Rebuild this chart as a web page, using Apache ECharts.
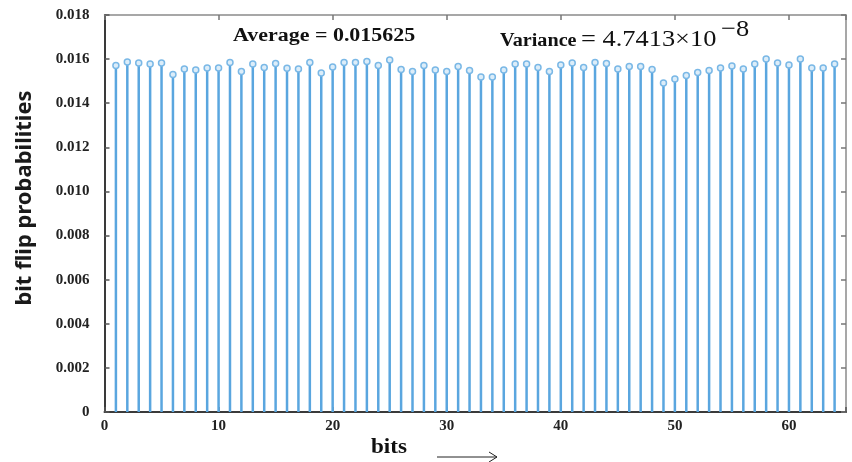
<!DOCTYPE html>
<html>
<head>
<meta charset="utf-8">
<script src="https://cdn.jsdelivr.net/npm/echarts@6/dist/echarts.min.js"></script>
<style>
html,body{margin:0;padding:0;background:#fff;}
#c{width:852px;height:462px;}
</style>
</head>
<body>
<div id="c"></div>
<script>
// bit index (1..64)
var bits = [];
for (var i = 1; i <= 64; i++) bits.push(i);
// bit flip probabilities
var probs = [
  0.01571, 0.01587, 0.01582, 0.01578, 0.01582, 0.01530, 0.01555, 0.01551, 0.01560, 0.01560,
  0.01585, 0.01544, 0.01578, 0.01562, 0.01580, 0.01558, 0.01555, 0.01585, 0.01537, 0.01564,
  0.01585, 0.01585, 0.01589, 0.01571, 0.01596, 0.01553, 0.01544, 0.01571, 0.01551, 0.01544,
  0.01567, 0.01548, 0.01519, 0.01519, 0.01551, 0.01578, 0.01578, 0.01562, 0.01544, 0.01573,
  0.01582, 0.01562, 0.01585, 0.01580, 0.01555, 0.01567, 0.01567, 0.01553, 0.01492, 0.01510,
  0.01526, 0.01539, 0.01548, 0.01560, 0.01569, 0.01555, 0.01578, 0.01601, 0.01582, 0.01573,
  0.01601, 0.01560, 0.01560, 0.01578
];
var xTicks = [0, 10, 20, 30, 40, 50, 60];
var yTicks = [0, 0.002, 0.004, 0.006, 0.008, 0.010, 0.012, 0.014, 0.016, 0.018];
var avgText = 'Average = 0.015625';
var varLabel = 'Variance';
var varValue = '= 4.7413\u00d710';
var varExp = '\u22128';

var pts = bits.map(function (b, k) { return [b, probs[k]]; });

var serif = '"Liberation Serif", "DejaVu Serif", serif';
var labelStyle = { fontFamily: serif, fontWeight: 'bold', fontSize: 15, color: '#222' };

var chart = echarts.init(document.getElementById('c'), null, { renderer: 'canvas' });
chart.setOption({
  animation: false,
  backgroundColor: '#fff',
  grid: { left: 104.5, right: 6, top: 15, bottom: 50, containLabel: false },
  xAxis: [{
    type: 'value', min: 0, max: 65, interval: 10, position: 'bottom',
    axisLine: { show: true, onZero: false, lineStyle: { color: '#3a3a3a', width: 2 } },
    axisTick: { show: true, inside: true, length: 5, lineStyle: { color: '#555', width: 1.5 } },
    splitLine: { show: false },
    axisLabel: Object.assign({ margin: 7, formatter: function (v) { return xTicks.indexOf(v) >= 0 ? String(v) : ''; } }, labelStyle)
  }, {
    type: 'value', min: 0, max: 65, interval: 10, position: 'top',
    axisLine: { show: true, onZero: false, lineStyle: { color: '#8a8a8a', width: 1.5 } },
    axisTick: { show: true, inside: true, length: 5, lineStyle: { color: '#777', width: 1.5 } },
    splitLine: { show: false }, axisLabel: { show: false }
  }],
  yAxis: [{
    type: 'value', min: 0, max: 0.018, interval: 0.002, position: 'left',
    axisLine: { show: true, onZero: false, lineStyle: { color: '#3a3a3a', width: 2 } },
    axisTick: { show: true, inside: true, length: 5, lineStyle: { color: '#555', width: 1.5 } },
    splitLine: { show: false },
    axisLabel: Object.assign({ margin: 15, formatter: function (v) {
      for (var i = 0; i < yTicks.length; i++) if (Math.abs(yTicks[i] - v) < 1e-9) return v === 0 ? '0' : yTicks[i].toFixed(3);
      return '';
    } }, labelStyle)
  }, {
    type: 'value', min: 0, max: 0.018, interval: 0.002, position: 'right',
    axisLine: { show: true, onZero: false, lineStyle: { color: '#8a8a8a', width: 1.5 } },
    axisTick: { show: true, inside: true, length: 5, lineStyle: { color: '#777', width: 1.5 } },
    splitLine: { show: false }, axisLabel: { show: false }
  }],
  series: [{
    type: 'bar', xAxisIndex: 0, yAxisIndex: 0,
    data: pts, barWidth: 2.5,
    itemStyle: { color: '#5aa6df' },
    z: 2
  }, {
    type: 'scatter', xAxisIndex: 0, yAxisIndex: 0,
    data: pts, symbol: 'circle', symbolSize: 6,
    itemStyle: { color: '#dcedf9', borderColor: '#7ab8e6', borderWidth: 1.5, opacity: 1 },
    z: 3
  }],
  graphic: [
    { type: 'text', x: 233, y: 27, scaleX: 1.22, style: { text: avgText, font: 'bold 18px ' + serif, fill: '#111', verticalAlign: 'top' } },
    { type: 'text', x: 500, y: 32, scaleX: 1.12, style: { text: varLabel, font: 'bold 18px ' + serif, fill: '#111', verticalAlign: 'top' } },
    { type: 'text', x: 581, y: 28, scaleX: 1.1, style: { text: varValue, font: '24px ' + serif, fill: '#111', verticalAlign: 'top' } },
    { type: 'text', x: 721, y: 18, scaleX: 1.1, style: { text: varExp, font: '24px ' + serif, fill: '#111', verticalAlign: 'top' } },
    { type: 'text', x: 25, y: 198, rotation: Math.PI / 2,
      style: { text: 'bit flip probabilities', font: 'bold 22px "Noto Sans", "Open Sans", sans-serif', fill: '#1a1a1a', align: 'center', verticalAlign: 'middle' } },
    { type: 'text', x: 371, y: 436, scaleX: 1.05, style: { text: 'bits', font: 'bold 22px ' + serif, fill: '#111', verticalAlign: 'top' } },
    { type: 'polyline', shape: { points: [[437, 457], [497, 457]] }, style: { stroke: '#222', lineWidth: 1, fill: null } },
    { type: 'polyline', shape: { points: [[489, 452], [497, 457], [489, 462]] }, style: { stroke: '#222', lineWidth: 1, fill: null } }
  ]
});
</script>
</body>
</html>
